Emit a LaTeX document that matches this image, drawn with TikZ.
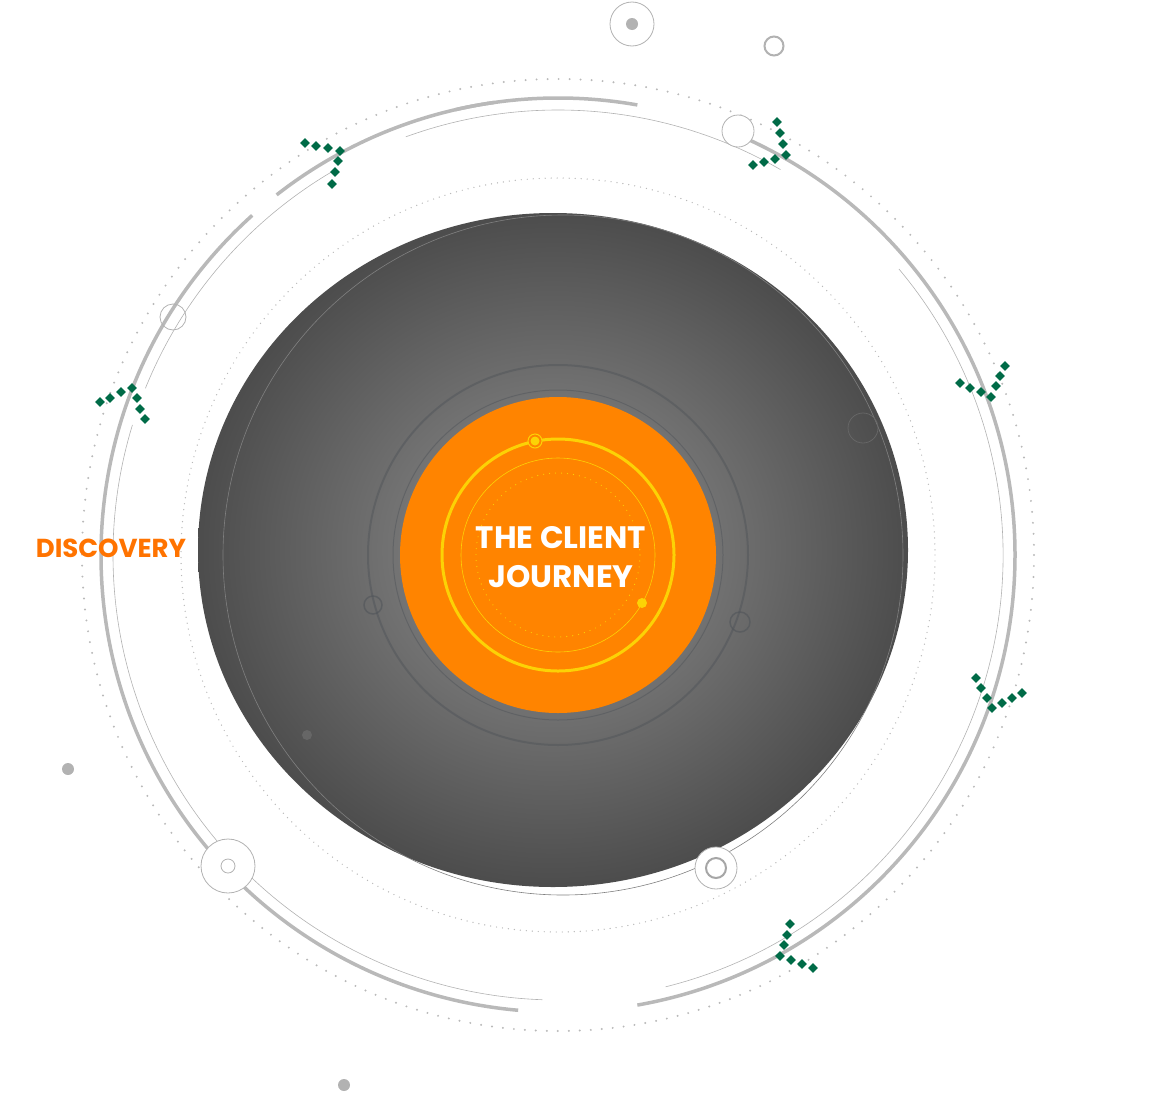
\documentclass[tikz,border=0pt]{standalone}
\usepackage{fontspec}
\setmainfont{Poppins}
\begin{document}
\begin{tikzpicture}[x=1pt,y=-1pt,
  ring/.style={draw=gray!55!white,line width=3.5pt},
  thin/.style={draw=gray!60!white,line width=0.6pt},
  dots/.style={draw=gray!55,line width=2.2pt,dash pattern=on 0pt off 11pt,line cap=round},
  fdots/.style={draw=gray!55,line width=1.4pt,dash pattern=on 0pt off 6pt,line cap=round},
  tealsq/.style={fill=teal!80!green!70!black,rotate=45,minimum size=7pt,inner sep=0pt,draw=none,shape=rectangle},
  dec/.style={draw=gray!60,line width=0.8pt,fill=white}]
\useasboundingbox (0,0) rectangle (1150,1092);
\coordinate (c) at (558,555);
% outer dotted
\draw[dots] (c) circle (476);
\draw[fdots] (c) circle (377);
% thick ring with gaps
\draw[ring] (c) ++(-80:457) arc (-80:-128:457);
\draw[ring] (c) ++(-132:457) arc (-132:-265:457);
\draw[ring] (c) ++(-280:457) arc (-280:-360:457);
\draw[ring] (c) ++(0:457) arc (0:-66:457);
\draw[ring] (c) ++(-98:457) arc (-98:-103:457);
% thin ring
\draw[thin] (c) ++(-60:445) arc (-60:-110:445);
\draw[thin] (c) ++(-120:445) arc (-120:-158:445);
\draw[thin] (c) ++(-163:445) arc (-163:-268:445);
\draw[thin] (c) ++(-284:445) arc (-284:-400:445);
% dark disc
\shade[inner color=gray!105!black!90,outer color=black!70] (553,550) ellipse (355 and 337);
\fill[inner color=black!45,outer color=black!70,opacity=0] (553,550) ellipse (355 and 337);
\draw[draw=black!50,line width=0.6pt] (563,555) ellipse (340 and 340);
\draw[draw=gray!70!cyan!40!black,line width=2pt,opacity=0.5] (c) circle (190);
\draw[draw=gray!70!cyan!40!black,line width=1pt,opacity=0.5] (c) circle (165);
% orange
\fill[orange!85!yellow!90!red] (c) circle (158);
\draw[draw=yellow!70!orange,line width=3pt] (c) circle (116);
\draw[draw=yellow!70!orange,line width=0.6pt] (c) circle (97);
\draw[draw=yellow!70!orange,line width=1.2pt,dash pattern=on 0pt off 6pt,line cap=round] (c) circle (82);
\node[circle,draw=yellow!70!orange,fill=orange!85!yellow!90!red,line width=1pt,minimum size=14pt,inner sep=0pt] (o1) at (535,441) {};
\fill[yellow!70!orange] (o1) circle (4.5);
\fill[yellow!70!orange] (642,603) circle (5);
\node[text=white,font=\bfseries\fontsize{31}{39}\selectfont,align=center] (title) at (561,557) {THE CLIENT\\JOURNEY};
\node[text=orange!90!red,font=\bfseries\fontsize{26}{30}\selectfont] (disc) at (111,548) {DISCOVERY};
% decorative circles
\node[dec,circle,minimum size=44pt,inner sep=0pt] (d1) at (632,24) {};
\fill[gray!60] (d1) circle (6);
\node[circle,draw=gray!60,line width=2pt,fill=white,minimum size=19pt,inner sep=0pt] (d2) at (774,46) {};
\node[dec,circle,minimum size=32pt,inner sep=0pt] (d3) at (738,131) {};
\node[dec,circle,minimum size=26pt,inner sep=0pt,fill=none] (d4) at (173,317) {};
\node[dec,circle,minimum size=54pt,inner sep=0pt] (d5) at (228,866) {};
\node[dec,circle,minimum size=14pt,inner sep=0pt] (d5b) at (228,866) {};
\node[dec,circle,minimum size=42pt,inner sep=0pt] (d6) at (716,868) {};
\node[circle,draw=gray!70,line width=2pt,minimum size=20pt,inner sep=0pt] (d6b) at (716,868) {};
\fill[gray!60] (68,769) circle (6);
\fill[gray!60] (344,1085) circle (6);
\node[circle,draw=black!60,line width=0.8pt,minimum size=30pt,inner sep=0pt] (d7) at (863,428) {};
\node[circle,draw=gray!70!cyan!40!black,line width=1.5pt,minimum size=18pt,inner sep=0pt,opacity=0.6] (d8) at (373,605) {};
\node[circle,draw=gray!70!cyan!40!black,line width=1.5pt,minimum size=20pt,inner sep=0pt,opacity=0.6] (d9) at (740,622) {};
\fill[black!60] (307,735) circle (5);
% teal motifs
\foreach \p in {(305,143),(316,146),(328,148),(340,151),(338,161),(335,172),(332,184),
  (777,122),(780,133),(783,144),(786,155),(775,159),(764,162),(753,165),
  (100,402),(110,398),(121,392),(132,388),(137,398),(140,409),(145,419),
  (1005,366),(1000,376),(996,386),(991,397),(981,392),(970,388),(960,383),
  (976,678),(981,688),(987,698),(992,708),(1002,703),(1012,698),(1022,693),
  (790,924),(787,935),(784,945),(780,956),(791,960),(802,964),(813,968)}
  \node[tealsq] at \p {};
\end{tikzpicture}
\end{document}
